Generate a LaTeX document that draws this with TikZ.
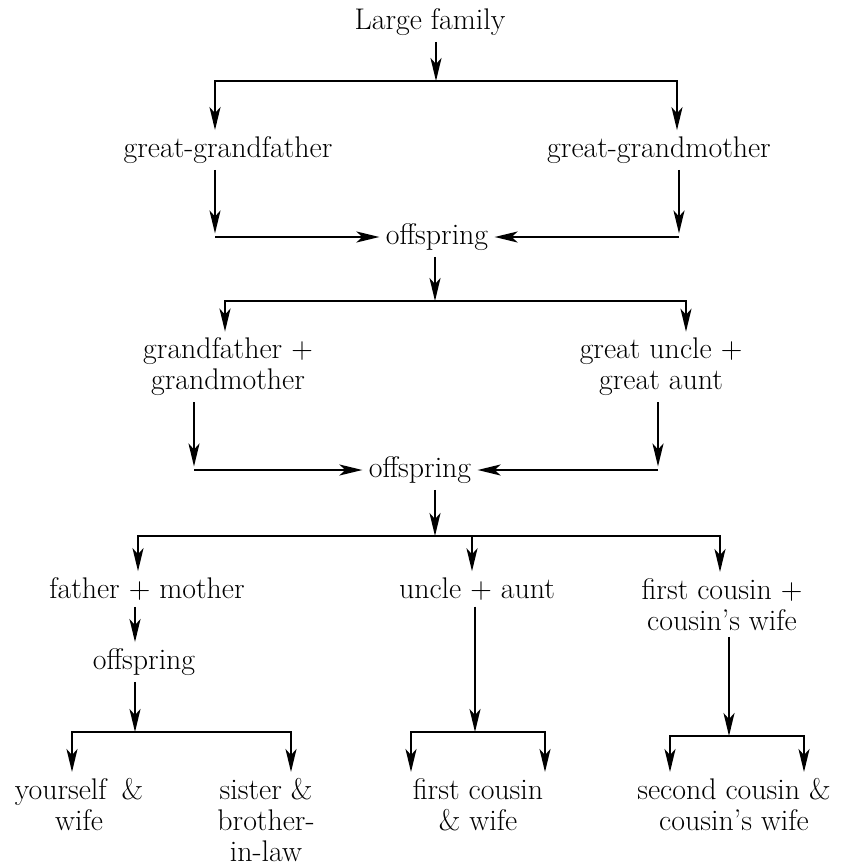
\documentclass[tikz,border=0pt]{standalone}
\usetikzlibrary{arrows.meta}
\tikzset{every picture/.style={line width=1.3pt}}
\tikzset{
    >={Stealth[length=0.46cm, width=0.22cm, inset=0.12cm]},
    kin/.style={align=center, inner sep=3pt, font=\fontsize{17}{17.6}\selectfont},
    leaf/.style={kin, anchor=north}
}
\begin{document}
\begin{tikzpicture}
    \useasboundingbox (0,0) rectangle (16.86,-17.32);
    % generations
    \node[kin] (top) at (8.60, -0.44) {Large family};
    \node[kin] (ggf) at (4.56, -3.00) {great-grandfather};
    \node[kin] (ggm) at (13.18, -3.00) {great-grandmother};
    \node[kin] (off1) at (8.74, -4.74) {offspring};
    \node[kin] (gf) at (4.56, -7.34) {grandfather +\\grandmother};
    \node[kin] (gu) at (13.22, -7.34) {great uncle +\\great aunt};
    \node[kin] (off2) at (8.40, -9.40) {offspring};
    \node[kin] (fm) at (2.94, -11.78) {father + mother};
    \node[kin] (ua) at (9.54, -11.78) {uncle + aunt};
    \node[kin] (fc) at (14.44, -12.09) {first cousin +\\cousin's wife};
    \node[kin] (off3) at (2.88, -13.24) {offspring};
    \node[leaf] (you) at (1.58, -15.44) {yourself\enspace\&\\wife};
    \node[leaf] (sis) at (5.32, -15.44) {sister \&\\brother-\\in-law};
    \node[leaf] (fcw) at (9.56, -15.44) {first cousin\\\& wife};
    \node[leaf] (sc) at (14.68, -15.44) {second cousin \&\\cousin's wife};
    % bus and joint points
    \coordinate (b1) at (8.72, -1.62);
    \coordinate (b1l) at (4.30, -1.62);
    \coordinate (b1r) at (13.54, -1.62);
    \coordinate (j1l) at (4.30, -4.74);
    \coordinate (j1r) at (13.58, -4.74);
    \coordinate (b2) at (8.70, -6.02);
    \coordinate (b2l) at (4.50, -6.02);
    \coordinate (b2r) at (13.72, -6.02);
    \coordinate (j2l) at (3.88, -9.40);
    \coordinate (j2r) at (13.16, -9.40);
    \coordinate (b3) at (8.70, -10.72);
    \coordinate (b3l) at (2.76, -10.72);
    \coordinate (b3m) at (9.44, -10.72);
    \coordinate (b3r) at (14.40, -10.72);
    \coordinate (b4) at (2.70, -14.64);
    \coordinate (b4l) at (1.44, -14.64);
    \coordinate (b4r) at (5.82, -14.64);
    \coordinate (b5) at (9.50, -14.64);
    \coordinate (b5l) at (8.22, -14.64);
    \coordinate (b5r) at (10.90, -14.64);
    \coordinate (b6) at (14.58, -14.72);
    \coordinate (b6l) at (13.40, -14.72);
    \coordinate (b6r) at (16.08, -14.72);
    % first split
    \draw[->] (top.south -| b1) -- (b1);
    \draw[<->] (b1l |- ggf.north) -- (b1l) -- (b1r) -- (b1r |- ggm.north);
    \draw[->, shorten >=2pt] (ggf.south -| j1l) -- (j1l);
    \draw[->] (j1l) -- (off1.west);
    \draw[->, shorten >=2pt] (ggm.south -| j1r) -- (j1r);
    \draw[->] (j1r) -- (off1.east);
    % second split
    \draw[->] (off1.south -| b2) -- (b2);
    \draw[<->] (b2l |- gf.north) -- (b2l) -- (b2r) -- (b2r |- gu.north);
    \draw[->, shorten >=2pt] (gf.south -| j2l) -- (j2l);
    \draw[->] (j2l) -- (off2.west);
    \draw[->, shorten >=2pt] (gu.south -| j2r) -- (j2r);
    \draw[->] (j2r) -- (off2.east);
    % third split
    \draw[->] (off2.south -| b3) -- (b3);
    \draw[<->] (b3l |- fm.north) -- (b3l) -- (b3r) -- (b3r |- fc.north);
    \draw[->] (b3m) -- (b3m |- ua.north);
    \draw[->] (fm.south -| b4) -- (b4 |- off3.north);
    \draw[->] (off3.south -| b4) -- (b4);
    \draw[<->] (b4l |- you.north) -- (b4l) -- (b4r) -- (b4r |- sis.north);
    \draw[->] (ua.south -| b5) -- (b5);
    \draw[<->] (b5l |- fcw.north) -- (b5l) -- (b5r) -- (b5r |- fcw.north);
    \draw[->] (fc.south -| b6) -- (b6);
    \draw[<->] (b6l |- sc.north) -- (b6l) -- (b6r) -- (b6r |- sc.north);
\end{tikzpicture}
\end{document}
